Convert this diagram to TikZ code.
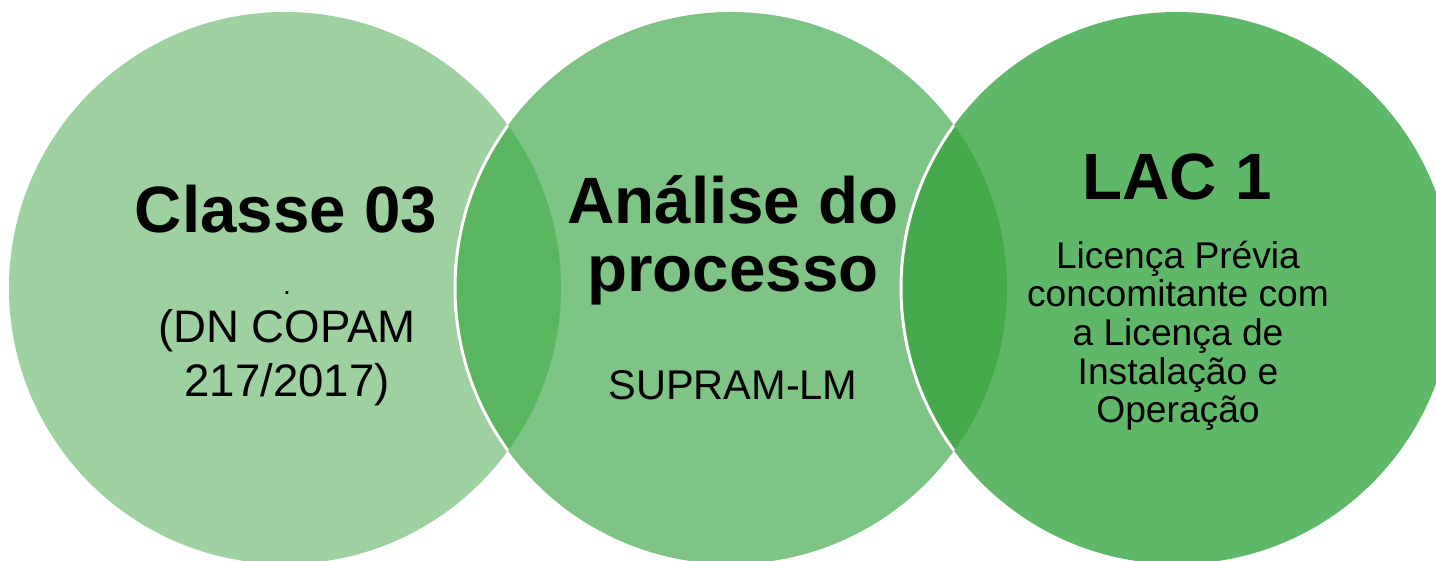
\documentclass[tikz,border=0pt]{standalone}
\usepackage{fontspec}
\setmainfont{Liberation Sans}
\usepackage{xcolor}
\usetikzlibrary{positioning}
\definecolor{vennA}{HTML}{9DD1A0}
\definecolor{vennB}{HTML}{7DC485}
\definecolor{vennC}{HTML}{5FB868}
\definecolor{vennAB}{HTML}{5AB55F}
\definecolor{vennBC}{HTML}{44AA4B}

\begin{document}
\begin{tikzpicture}[x=1pt,y=1pt]
\tikzset{hd/.style={font=\fontsize{65.5}{68}\selectfont\bfseries,align=center,inner sep=0pt,anchor=base},tx/.style={align=center,inner sep=0pt,anchor=base},rim/.style={draw=white,line width=3pt}}
\useasboundingbox (0,0) rectangle (1436,561);
\clip (0,0) rectangle (1436,561);
\def\rad{276}
\coordinate (c1) at (285,273); \coordinate (c2) at (731,273); \coordinate (c3) at (1177,273);
% circles
\fill[vennA] (c1) circle[radius=\rad];
\fill[vennB] (c2) circle[radius=\rad];
\fill[vennC] (c3) circle[radius=\rad];
% overlaps
\begin{scope}
\clip (c1) circle[radius=\rad];
\fill[vennAB] (c2) circle[radius=\rad];
\draw[rim] (c2) circle[radius=\rad];
\end{scope}
\begin{scope}
\clip (c2) circle[radius=\rad];
\fill[vennBC] (c3) circle[radius=\rad];
\draw[rim] (c3) circle[radius=\rad];
\end{scope}
% texts (base = last line)
\node[hd] (cls) at (286,328) {Classe 03};
\node[tx,font=\fontsize{28}{28}\selectfont] (dot) at (287,266) {.};
\node[tx,font=\fontsize{45.6}{54}\selectfont] (dn) at (287,164) {(DN COPAM\\217/2017)};
\node[hd] (ana) at (733,269) {Análise do\\processo};
\node[tx,font=\fontsize{41.5}{48}\selectfont] (sup) at (733,161) {SUPRAM-LM};
\node[hd] (lac) at (1177,361) {LAC 1};
\node[tx,font=\fontsize{37.2}{38.7}\selectfont] (lic) at (1178,138) {Licença Prévia\\concomitante com\\a Licença de\\Instalação e\\Operação};
\end{tikzpicture}
\end{document}
